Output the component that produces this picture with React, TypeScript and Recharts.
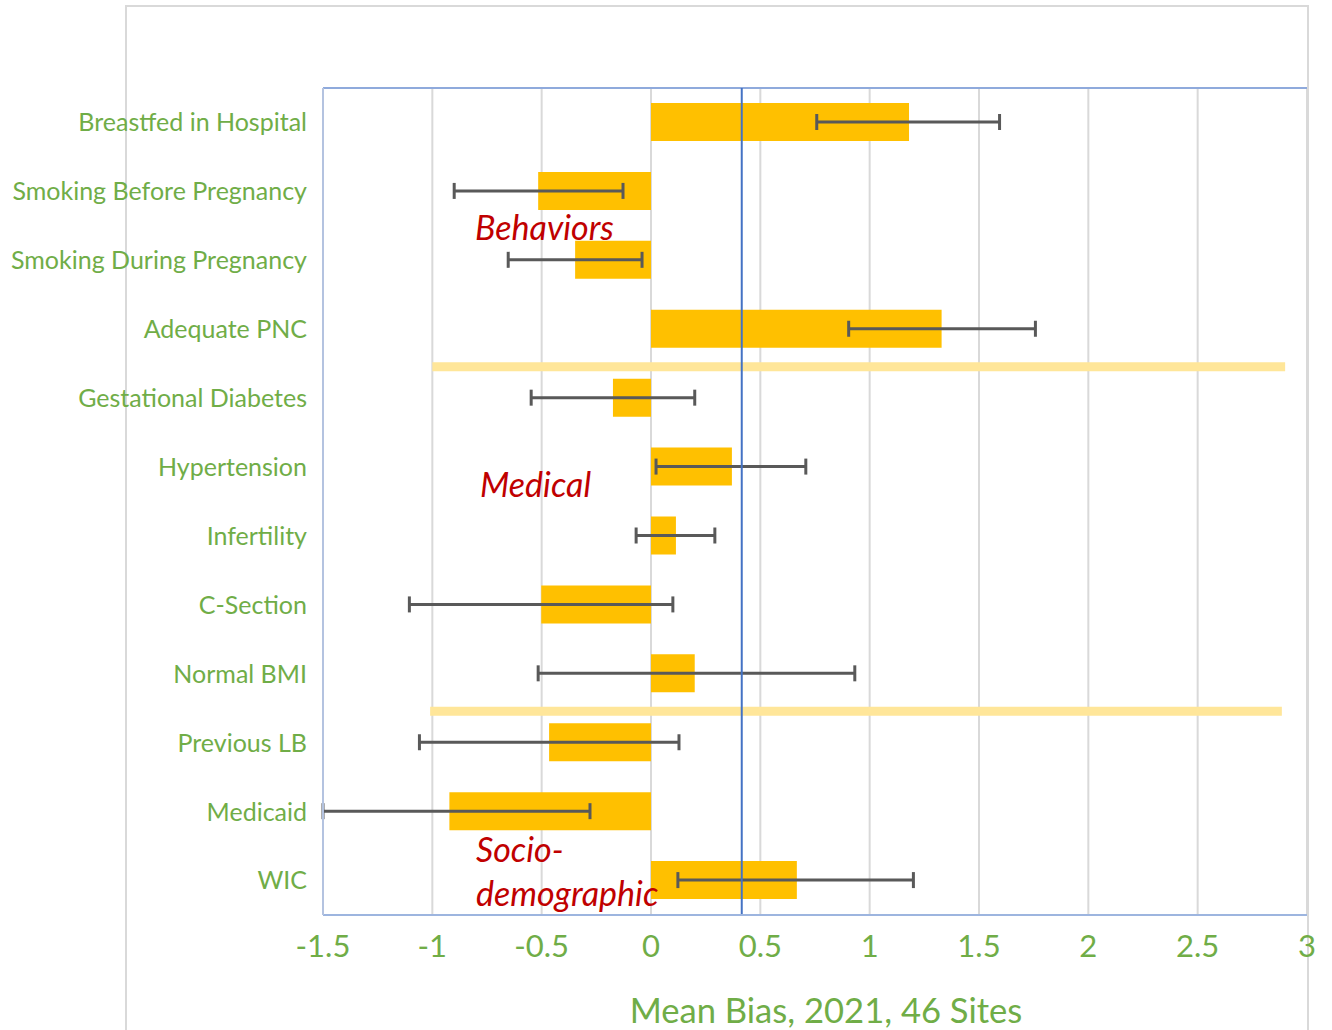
import { Bar, BarChart, CartesianGrid, ErrorBar, ReferenceLine, XAxis, YAxis } from 'recharts'

const categories = [
  'Breastfed in Hospital',
  'Smoking Before Pregnancy',
  'Smoking During Pregnancy',
  'Adequate PNC',
  'Gestational Diabetes',
  'Hypertension',
  'Infertility',
  'C-Section',
  'Normal BMI',
  'Previous LB',
  'Medicaid',
  'WIC',
]

// mean bias per item
const meanBias = [1.18, -0.516, -0.347, 1.329, -0.174, 0.37, 0.114, -0.502, 0.2, -0.466, -0.922, 0.667]

// error bar ends (low / high); Medicaid runs off the left edge
const errorLow = [0.758, -0.9, -0.653, 0.904, -0.548, 0.023, -0.068, -1.105, -0.516, -1.059, -1.5, 0.123]
const errorHigh = [1.594, -0.128, -0.041, 1.758, 0.2, 0.708, 0.292, 0.1, 0.932, 0.128, -0.279, 1.2]

const xTicks = [-1.5, -1, -0.5, 0, 0.5, 1, 1.5, 2, 2.5, 3]

const overallBias = 0.415

// group separators sit on top of the first row of the next group
const separators = [
  { row: 'Gestational Diabetes', from: -1, to: 2.9 },
  { row: 'Previous LB', from: -1.01, to: 2.885 },
]

const groupNotes = [
  { text: 'Behaviors', left: 475, top: 207 },
  { text: 'Medical', left: 480, top: 464 },
  { text: 'Socio-', left: 476, top: 829 },
  { text: 'demographic', left: 476, top: 873 },
]

const green = '#70AD47'
const font = 'Lato, "Open Sans", sans-serif'

const data = categories.map((name, i) => ({
  name,
  bias: meanBias[i],
  err: [meanBias[i] - errorLow[i], errorHigh[i] - meanBias[i]],
}))

const SeparatorLine = (props: any) => (
  <line
    x1={props.x1}
    x2={props.x2}
    y1={props.y1 + 3}
    y2={props.y2 + 3}
    stroke="#FFE699"
    strokeWidth={9}
  />
)

export default function App() {
  return (
    <div style={{ position: 'absolute', left: 0, top: 0, width: 1332, height: 1030, overflow: 'hidden', background: '#fff' }}>
      <div
        style={{
          position: 'absolute',
          left: 125,
          top: 5,
          width: 1180,
          height: 1060,
          border: '2px solid #D9D9D9',
        }}
      />
      <div style={{ position: 'absolute', left: 0, top: 0 }}>
        <BarChart
          width={1332}
          height={1030}
          data={data}
          layout="vertical"
          margin={{ top: 88, right: 25, bottom: 0, left: 0 }}
          barCategoryGap={0}
        >
          <CartesianGrid horizontal={false} stroke="#D9D9D9" strokeWidth={2} />
          <XAxis
            type="number"
            domain={[-1.5, 3]}
            ticks={xTicks}
            allowDataOverflow
            height={115}
            tickLine={false}
            tickSize={0}
            tickMargin={20}
            axisLine={{ stroke: '#9DB5DF', strokeWidth: 2 }}
            tick={{ fill: green, fontSize: 31, fontFamily: font }}
            label={{
              value: 'Mean Bias, 2021, 46 Sites',
              position: 'insideBottom',
              offset: 7,
              dx: 11,
              fill: green,
              fontSize: 34.6,
              fontFamily: font,
            }}
          />
          <YAxis
            type="category"
            dataKey="name"
            width={323}
            interval={0}
            tickLine={false}
            tickSize={0}
            tickMargin={16}
            axisLine={{ stroke: '#B4C3E0', strokeWidth: 2 }}
            tick={{ fill: green, fontSize: 25, fontFamily: font }}
          />
          {separators.map((s) => (
            <ReferenceLine
              key={s.row}
              position="start"
              segment={[
                { x: s.from, y: s.row },
                { x: s.to, y: s.row },
              ]}
              shape={SeparatorLine}
            />
          ))}
          <Bar dataKey="bias" fill="#FFC000" barSize={38} isAnimationActive={false}>
            <ErrorBar dataKey="err" direction="x" stroke="#595959" strokeWidth={3} width={8} />
          </Bar>
          <ReferenceLine y={categories[0]} position="start" stroke="#8FAADC" strokeWidth={2} />
          <ReferenceLine x={overallBias} stroke="#4472C4" strokeWidth={2} />
        </BarChart>
      </div>
      {groupNotes.map((n) => (
        <div
          key={n.text}
          style={{
            position: 'absolute',
            left: n.left,
            top: n.top,
            lineHeight: '40px',
            fontFamily: font,
            fontStyle: 'italic',
            fontSize: 34,
            color: '#C00000',
            whiteSpace: 'nowrap',
          }}
        >
          {n.text}
        </div>
      ))}
    </div>
  )
}
